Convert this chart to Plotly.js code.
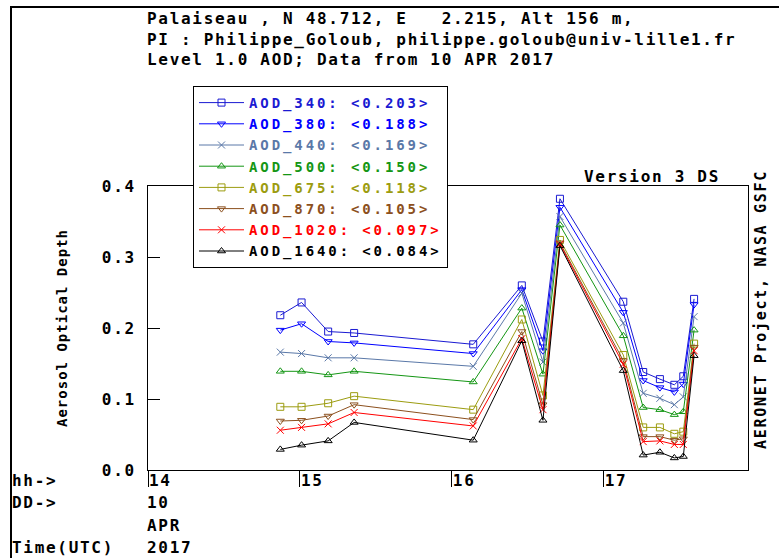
<!DOCTYPE html>
<html><head><meta charset="utf-8">
<script src="https://cdn.plot.ly/plotly-3.0.1.min.js"></script>
<style>
html,body{margin:0;padding:0;background:#fff;}
#wrap{position:relative;width:779px;height:558px;overflow:hidden;}
#chart{width:779px;height:558px;}
#frame{position:absolute;left:10px;top:6px;width:800px;height:600px;border-left:2px solid #000;border-top:2px solid #000;pointer-events:none;}
text{letter-spacing:1.7px;}
text.legendtext{letter-spacing:2.9px;}
text.ytitle{letter-spacing:1px;}
</style></head><body><div id="wrap"><div id="chart"></div><div id="frame"></div></div>
<script>
// time of day (hours UTC), 10 APR 2017
const hours   = [14.871, 15.011, 15.186, 15.357, 16.141, 16.461, 16.600, 16.712, 17.129, 17.260, 17.370, 17.465, 17.524, 17.595];
const aod340  = [0.218, 0.236, 0.195, 0.193, 0.177, 0.260, 0.181, 0.382, 0.237, 0.138, 0.128, 0.120, 0.132, 0.241];
const aod380  = [0.197, 0.206, 0.181, 0.179, 0.164, 0.254, 0.168, 0.370, 0.222, 0.126, 0.116, 0.110, 0.121, 0.233];
const aod440  = [0.166, 0.164, 0.158, 0.158, 0.146, 0.249, 0.152, 0.357, 0.207, 0.108, 0.101, 0.092, 0.103, 0.216];
const aod500  = [0.139, 0.139, 0.134, 0.139, 0.124, 0.228, 0.135, 0.345, 0.189, 0.088, 0.085, 0.078, 0.082, 0.197];
const aod675  = [0.089, 0.089, 0.094, 0.104, 0.085, 0.212, 0.105, 0.324, 0.162, 0.060, 0.060, 0.051, 0.054, 0.178];
const aod870  = [0.069, 0.070, 0.076, 0.092, 0.071, 0.195, 0.092, 0.320, 0.154, 0.047, 0.047, 0.042, 0.044, 0.173];
const aod1020 = [0.056, 0.060, 0.065, 0.081, 0.062, 0.185, 0.085, 0.318, 0.149, 0.040, 0.041, 0.036, 0.036, 0.168];
const aod1640 = [0.029, 0.035, 0.041, 0.067, 0.042, 0.182, 0.070, 0.316, 0.140, 0.021, 0.025, 0.017, 0.019, 0.161];

const seriesNames = ['AOD_340', 'AOD_380', 'AOD_440', 'AOD_500', 'AOD_675', 'AOD_870', 'AOD_1020', 'AOD_1640'];
const seriesMeans = ['0.203', '0.188', '0.169', '0.150', '0.118', '0.105', '0.097', '0.084'];
const seriesData  = [aod340, aod380, aod440, aod500, aod675, aod870, aod1020, aod1640];
const colors  = ['#1a1ad2', '#0000ff', '#5a78a8', '#149614', '#9c9c10', '#8c501e', '#ff0000', '#000000'];
const symbols = ['square-open', 'triangle-down-open', 'x-thin-open', 'triangle-up-open', 'square-open', 'triangle-down-open', 'x-thin-open', 'triangle-up-open'];

const xTicks = [14, 15, 16, 17];
const xTickText = ['14', '15', '16', '17'];
const yTicks = [0, 0.1, 0.2, 0.3, 0.4];
const yTickText = ['0.0', '0.1', '0.2', '0.3', '0.4'];

const titleLines = [
  'Palaiseau , N 48.712, E\u00a0\u00a0 2.215, Alt 156 m,',
  'PI : Philippe_Goloub, philippe.goloub@univ-lille1.fr',
  'Level 1.0 AOD; Data from 10 APR 2017'
];

const FONT = 'DejaVu Sans Mono, Liberation Mono, monospace';
const f = (size) => ({family: FONT, size: size, color: '#000', weight: 'bold'});

const traces = seriesData.map((vals, i) => ({
  type: 'scatter',
  mode: 'lines+markers',
  x: hours,
  y: vals,
  name: '<span style="color:' + colors[i] + '">' + seriesNames[i] + ': &lt;' + seriesMeans[i] + '&gt;</span>',
  line: {color: colors[i], width: 1},
  marker: {symbol: symbols[i], size: 7, color: colors[i], line: {color: colors[i], width: 1}},
  hoverinfo: 'x+y'
}));

// plot area x 148..748, y 186..470
const L = 148, R = 748, T = 186, B = 470, W = 779, H = 558;
const px = (x) => (x - L) / (R - L);
const py = (y) => (B - y) / (B - T);

const annotations = [];
titleLines.forEach((t, i) => {
  annotations.push({text: t, xref: 'paper', yref: 'paper', x: px(145), y: py([18.5, 39.5, 60][i]),
    xanchor: 'left', yanchor: 'middle', showarrow: false, font: f(16)});
});
annotations.push({text: 'Version 3 DS', xref: 'paper', yref: 'paper', x: px(582), y: py(177),
  xanchor: 'left', yanchor: 'middle', showarrow: false, font: f(16)});
annotations.push({text: 'AERONET Project, NASA GSFC', xref: 'paper', yref: 'paper', x: px(761), y: py(310),
  xanchor: 'center', yanchor: 'middle', textangle: -90, showarrow: false, font: f(15)});
const leftLabels = [
  ['hh->', 10, 480], ['DD->', 10, 502], ['10', 145, 502], ['APR', 145, 525], ['Time(UTC)', 10, 547], ['2017', 145, 547]
];
leftLabels.forEach(([t, x, y]) => {
  annotations.push({text: t, xref: 'paper', yref: 'paper', x: px(x), y: py(y),
    xanchor: 'left', yanchor: 'middle', showarrow: false, font: f(16)});
});

const layout = {
  width: W, height: H,
  margin: {l: L, r: W - R, t: T, b: H - B, pad: 0},
  paper_bgcolor: '#fff', plot_bgcolor: '#fff',
  showlegend: true,
  legend: {
    x: px(193), y: py(86), xanchor: 'left', yanchor: 'top',
    bgcolor: '#fff', bordercolor: '#000', borderwidth: 1,
    font: f(14), itemwidth: 45, tracegroupgap: 0, itemclick: false, itemdoubleclick: false
  },
  xaxis: {
    range: [14, 17.95], tickvals: xTicks, ticktext: xTickText,
    ticks: 'outside', ticklen: 16, tickwidth: 1, tickcolor: '#000',
    ticklabelposition: 'outside right', ticklabelstandoff: -4,
    showline: true, mirror: true, linecolor: '#000', linewidth: 1,
    showgrid: false, zeroline: false, tickfont: f(16), fixedrange: true
  },
  yaxis: {
    range: [0, 0.4], tickvals: yTicks, ticktext: yTickText,
    ticks: 'inside', ticklen: 12, tickwidth: 1, tickcolor: '#000', ticklabelstandoff: 8,
    showline: true, mirror: true, linecolor: '#000', linewidth: 1,
    showgrid: false, zeroline: false, tickfont: f(16), fixedrange: true,
    title: {text: 'Aerosol Optical Depth', font: f(14), standoff: 30}
  },
  annotations: annotations
};

Plotly.newPlot('chart', traces, layout, {displayModeBar: false, staticPlot: true});
</script></body></html>
